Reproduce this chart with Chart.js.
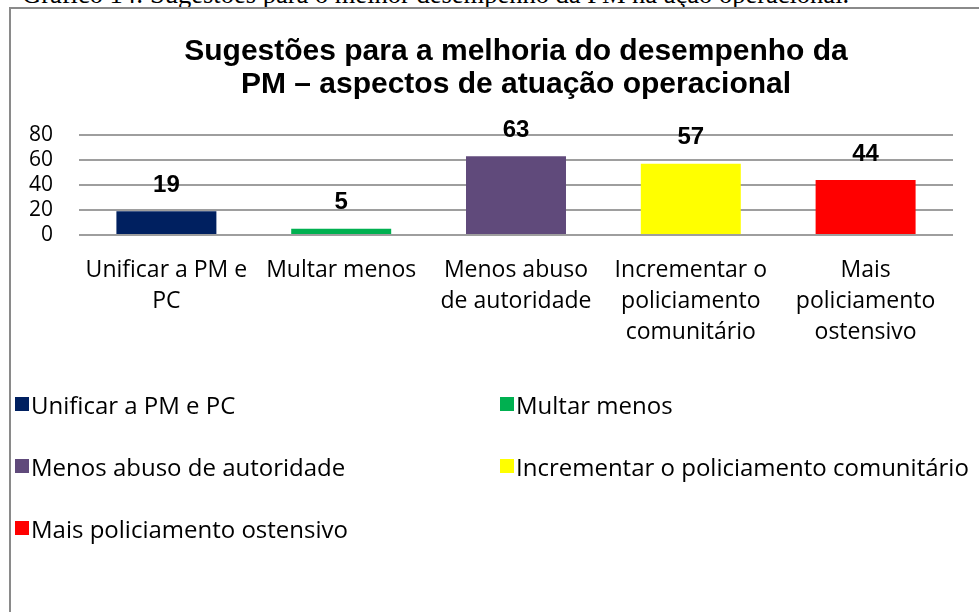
<!DOCTYPE html>
<html lang="pt">
<head>
    <meta charset="UTF-8">
    <title>Sugestões para a melhoria do desempenho da PM</title>
    <script src="https://cdn.jsdelivr.net/npm/chart.js"></script>
    <style>
        body {
            margin: 0;
            background: #fff;
            width: 979px;
            height: 612px;
            overflow: hidden;
            position: relative;
        }
        /* caption of the figure, cut off at the top of the page */
        .caption {
            position: absolute;
            left: 22px;
            top: -19px;
            font-family: "Liberation Serif", serif;
            font-size: 26.5px;
            line-height: 26px;
            white-space: nowrap;
            color: #000;
        }
        /* frame of the chart object (only left and top edges are visible) */
        .frame {
            position: absolute;
            left: 9px;
            top: 7px;
            right: -10px;
            bottom: -10px;
            border-left: 2px solid #8a8a8a;
            border-top: 2px solid #8a8a8a;
        }
        #chart {
            position: absolute;
            left: 0;
            top: 0;
        }
        .legend-item {
            position: absolute;
            height: 30px;
            display: flex;
            align-items: center;
            font-family: "Open Sans", sans-serif;
            font-size: 24px;
            color: #000;
            white-space: nowrap;
        }
        .legend-item .swatch {
            width: 14px;
            height: 14px;
            margin-right: 2px;
        }
    </style>
</head>
<body>
    <div class="caption">Gráfico 14: Sugestões para o melhor desempenho da PM na ação operacional.</div>
    <div class="frame"></div>
    <canvas id="chart" width="979" height="612"></canvas>
    <div id="legend"></div>

    <script>
        // chart data
        const categories = [
            ['Unificar a PM e', 'PC'],
            ['Multar menos'],
            ['Menos abuso', 'de autoridade'],
            ['Incrementar o', 'policiamento', 'comunitário'],
            ['Mais', 'policiamento', 'ostensivo']
        ];
        const legendNames = [
            'Unificar a PM e PC',
            'Multar menos',
            'Menos abuso de autoridade',
            'Incrementar o policiamento comunitário',
            'Mais policiamento ostensivo'
        ];
        const values = [19, 5, 63, 57, 44];
        const yTicks = [0, 20, 40, 60, 80];
        const barColors = ['#002060', '#00B050', '#604A7B', '#FFFF00', '#FF0000'];
        const titleLines = ['Sugestões para a melhoria do desempenho da', 'PM – aspectos de atuação operacional'];

        // value labels above each bar
        const valueLabels = {
            id: 'valueLabels',
            afterDatasetsDraw(chart) {
                const ctx = chart.ctx;
                const meta = chart.getDatasetMeta(0);
                ctx.save();
                ctx.font = 'bold 24px "Liberation Sans", Arial, sans-serif';
                ctx.fillStyle = '#000';
                ctx.textAlign = 'center';
                ctx.textBaseline = 'middle';
                meta.data.forEach((bar, i) => {
                    ctx.fillText(values[i], bar.x, bar.y - 26);
                });
                ctx.restore();
            }
        };

        const ctx = document.getElementById('chart').getContext('2d');
        const chart = new Chart(ctx, {
            type: 'bar',
            data: {
                labels: categories,
                datasets: [{
                    data: values,
                    backgroundColor: barColors,
                    borderWidth: 0,
                    barPercentage: 0.572,
                    categoryPercentage: 1
                }]
            },
            options: {
                responsive: false,
                animation: false,
                layout: { padding: { left: 0, right: 26, top: 0, bottom: 0 } },
                plugins: {
                    legend: { display: false },
                    tooltip: { enabled: false },
                    title: {
                        display: true,
                        fullSize: false,
                        text: titleLines,
                        color: '#000',
                        font: { family: '"Liberation Sans", Arial, sans-serif', size: 30, weight: 'bold', lineHeight: 1.1 },
                        padding: { top: 35, bottom: 34 }
                    }
                },
                scales: {
                    x: {
                        grid: { display: false, drawTicks: false },
                        border: { display: false },
                        ticks: {
                            color: '#000',
                            padding: 20,
                            maxRotation: 0,
                            autoSkip: false,
                            font: { family: '"Open Sans", sans-serif', size: 23, lineHeight: 1.35 }
                        },
                        afterFit(scale) { scale.height = 612 - 235; }
                    },
                    y: {
                        min: yTicks[0],
                        max: yTicks[yTicks.length - 1],
                        grid: { color: '#9e9e9e', lineWidth: 2, drawTicks: false },
                        border: { display: false },
                        ticks: {
                            stepSize: yTicks[1] - yTicks[0],
                            autoSkip: false,
                            color: '#000',
                            padding: 26,
                            font: { family: '"Open Sans", sans-serif', size: 21 }
                        },
                        afterFit(scale) { scale.width = 79; }
                    }
                }
            },
            plugins: [valueLabels]
        });

        // legend in two columns, as in the original figure
        const legendBox = document.getElementById('legend');
        const colX = [15, 500];
        const rowY = [404, 466, 528];
        legendNames.forEach((name, i) => {
            const item = document.createElement('div');
            item.className = 'legend-item';
            item.style.left = colX[i % 2] + 'px';
            item.style.top = (rowY[Math.floor(i / 2)] - 15) + 'px';
            const sw = document.createElement('span');
            sw.className = 'swatch';
            sw.style.background = barColors[i];
            item.appendChild(sw);
            item.appendChild(document.createTextNode(name));
            legendBox.appendChild(item);
        });
    </script>
</body>
</html>
